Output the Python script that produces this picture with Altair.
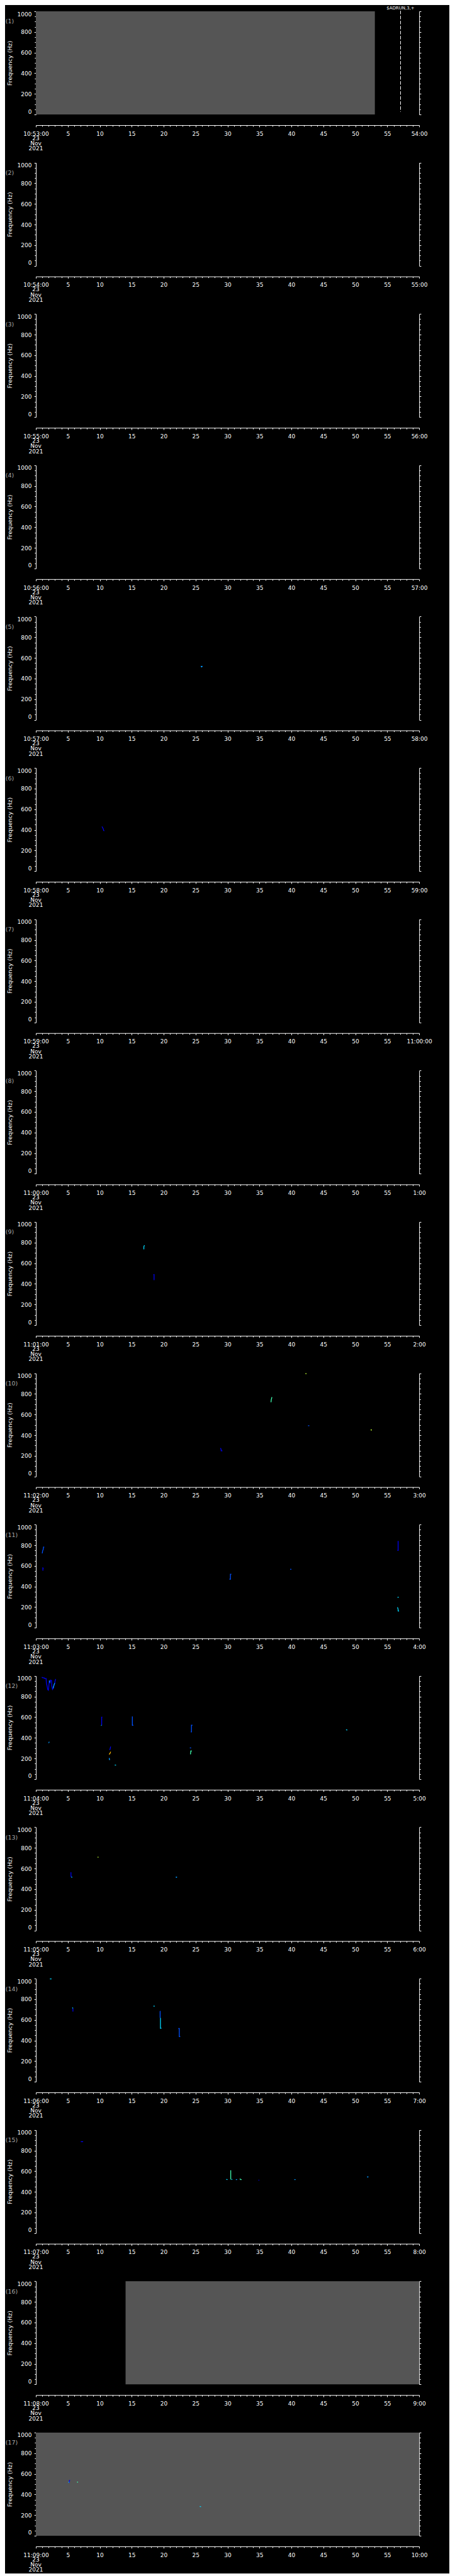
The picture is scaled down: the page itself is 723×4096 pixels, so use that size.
import altair as alt
import pandas as pd

S = 0.705
PLOT_W = 864 * S
PLOT_H = 232.7 * S
PERIOD = 341.31 * S
N_PANELS = 17
H_ALL = (N_PANELS - 1) * PERIOD + PLOT_H
TICK = 4 * S
TICK_MINOR = 2.8 * S
AXIS_OFFSET = 24 * S
LABEL_PAD = 5.6
LINE_H = 8.3
FONT = "DejaVu Sans"
GRAY = "#555555"

# ---------------- data ----------------
panel_start = ["10:53:00", "10:54:00", "10:55:00", "10:56:00", "10:57:00", "10:58:00",
               "10:59:00", "11:00:00", "11:01:00", "11:02:00", "11:03:00", "11:04:00",
               "11:05:00", "11:06:00", "11:07:00", "11:08:00", "11:09:00"]
panel_end = ["54:00", "55:00", "56:00", "57:00", "58:00", "59:00", "11:00:00", "1:00",
             "2:00", "3:00", "4:00", "5:00", "6:00", "7:00", "8:00", "9:00", "10:00"]
date_lines = ["23", "Nov", "2021"]

freq_ticks = list(range(0, 1001, 50))
time_ticks = list(range(0, 61))
freq_range = [0, 1000]
time_range = [0, 60]

# grey (no data) blocks
gray_panel = [1, 16, 17]
gray_t0 = [0.0, 14.04, 0.0]
gray_t1 = [53.06, 60.0, 60.0]

# marker in panel 1
marker_panel = 1
marker_time = 57.08
marker_f = [1005.6, 25.8]
marker_label = "$ADRUN,3,+"

level_names = ["1", "2", "3", "4", "5", "6", "7"]
level_colors = ["#0000f0", "#0050ff", "#0098ff", "#00d8ff", "#40ffb0", "#c0ff30", "#ffb800"]

# spectrogram traces: panel, level, times (s), frequencies (Hz)
trace_panel = [5, 5, 6, 9, 9,
               10, 10, 10, 10, 10,
               11, 11, 11, 11, 11, 11, 11,
               12, 12, 12, 12, 12, 12, 12, 12, 12, 12, 12, 12, 12, 12, 12,
               13, 13, 13, 13, 13,
               14, 14, 14, 14, 14, 14, 14,
               15, 15, 15, 15, 15, 15, 15, 15, 15, 15,
               17, 17, 17, 17]
trace_level = [3, 3, 1, 4, 1,
               6, 5, 2, 6, 1,
               2, 1, 2, 2, 1, 4, 4,
               1, 3, 3, 3, 1, 4, 2, 2, 4, 1, 7, 3, 4, 2, 5,
               6, 1, 4, 3, 3,
               4, 1, 4, 4, 2, 4, 2,
               1, 5, 4, 4, 3, 5, 1, 3, 3, 3,
               1, 4, 5, 4]
trace_t = [
    [25.8, 26.1], [25.95, 25.95],
    [10.35, 10.45, 10.55, 10.6, 10.7],
    [16.9, 16.9, 17.0],
    [18.4, 18.5, 18.5],
    [42.2, 42.35], [36.95, 36.85, 36.8], [42.6, 42.8], [52.4, 52.6], [28.9, 29.0, 29.0, 29.2],
    [1.0, 1.05, 1.15, 1.2, 1.3], [1.1, 1.1, 1.2], [30.3, 30.45, 30.45, 30.6], [39.8, 40.0],
    [56.6, 56.7, 56.7], [56.6, 56.8], [56.6, 56.7, 56.7, 56.85],
    [0.93, 1.1, 1.3, 1.35, 1.6, 1.65, 1.75, 1.85, 1.95, 2.0, 2.1, 2.2, 2.3, 2.45, 2.5,
     2.6, 2.7, 2.85, 2.95, 3.0, 3.1],
    [2.1, 2.2], [2.7, 2.85, 2.95], [2.0, 2.1],
    [10.3, 10.3, 10.4], [10.2, 10.3], [15.1, 15.1, 15.25], [24.25, 24.35, 24.35, 24.5],
    [48.55, 48.75], [11.5, 11.6, 11.65, 11.7], [11.45, 11.55, 11.65, 11.7],
    [11.5, 11.5, 11.6], [12.35, 12.55], [24.1, 24.3], [24.2, 24.25, 24.4],
    [9.65, 9.8], [5.49, 5.5, 5.6], [5.55, 5.7], [21.9, 22.1], [22.0, 22.0],
    [2.2, 2.45], [5.8, 5.8], [5.72, 5.8], [18.4, 18.6], [19.4, 19.45, 19.45],
    [19.5, 19.5, 19.65], [22.3, 22.45, 22.45, 22.6],
    [7.03, 7.4], [30.5, 30.5], [29.8, 30.0], [30.6, 30.75], [31.3, 31.5],
    [31.9, 32.0, 32.05, 32.2], [34.85, 34.95], [40.45, 40.65], [51.85, 52.05], [51.95, 51.95],
    [5.2, 5.25, 5.35], [5.1, 5.2], [6.45, 6.6], [25.65, 25.85],
]
trace_f = [
    [518, 518], [518, 508],
    [432, 420, 410, 395, 390],
    [735, 760, 775],
    [490, 490, 436],
    [996, 996], [769, 745, 719], [492, 492], [452, 450], [275, 260, 248, 248],
    [721, 745, 760, 782, 782], [553, 580, 575], [471, 471, 519, 519], [567, 567],
    [750, 750, 841], [295, 297], [199, 180, 163, 163],
    [988, 982, 982, 975, 975, 930, 905, 870, 862, 880, 955, 935, 960, 955, 900,
     870, 880, 915, 925, 950, 970],
    [955, 935], [880, 915, 930], [350, 362],
    [522, 600, 600], [520, 522], [607, 522, 522], [457, 457, 522, 522],
    [479, 476], [286, 286, 300, 315], [240, 245, 255, 265],
    [205, 190, 188], [136, 136], [304, 302], [240, 272, 272],
    [710, 710], [564, 522, 518], [516, 516], [517, 517], [517, 511],
    [997, 997], [680, 712], [719, 712], [733, 733], [683, 683, 619],
    [619, 519, 519], [516, 516, 437, 437],
    [886, 886], [609, 520], [521, 519], [520, 520], [519, 519],
    [524, 524, 519, 519], [515, 511], [519, 519], [545, 545], [545, 539],
    [513, 535, 540], [518, 518], [520, 520], [284, 281],
]

# ---------------- tables ----------------
rows = []
for i, (p, lv, ts, fs) in enumerate(zip(trace_panel, trace_level, trace_t, trace_f)):
    for j, (t, f) in enumerate(zip(ts, fs)):
        rows.append({"panel": p, "trace": i, "level": str(lv), "order": j, "t": t, "f": f})
traces_df = pd.DataFrame(rows)
gray_df = pd.DataFrame({"panel": gray_panel, "t0": gray_t0, "t1": gray_t1,
                        "f0": freq_range[0], "f1": freq_range[1]})


def top(k):
    return (k - 1) * PERIOD


def bot(k):
    return top(k) + PLOT_H


xscale = alt.Scale(domain=time_range, nice=False, zero=False)


def X(field, axis=None):
    return alt.X(field, type="quantitative", scale=xscale, axis=axis)


def Y(field, k, axis=None):
    return alt.Y(field, type="quantitative",
                 scale=alt.Scale(domain=freq_range, range=[bot(k), top(k)], nice=False, zero=False),
                 axis=axis)


x_tick_size = {"condition": {"test": "datum.value % 5 === 0", "value": TICK}, "value": TICK_MINOR}
y_tick_size = {"condition": {"test": "datum.value % 200 === 0", "value": TICK}, "value": 3 * S}

one = pd.DataFrame({"a": [0]})
layers = []
# invisible black anchors fixing the chart origin / width
layers.append(alt.Chart(one).mark_rect(color="black").encode(
    x=alt.value(-48.6), x2=alt.value(-47.6), y=alt.value(-8.92), y2=alt.value(-7.92)))
layers.append(alt.Chart(one).mark_rect(color="black").encode(
    x=alt.value(655.4), x2=alt.value(656.4), y=alt.value(-8.92), y2=alt.value(-7.92)))

color_enc = alt.Color("level:N", scale=alt.Scale(domain=level_names, range=level_colors),
                      legend=None)

for k in range(1, N_PANELS + 1):
    idx = k - 1
    g = gray_df[gray_df.panel == k]
    if len(g):
        layers.append(alt.Chart(g).mark_rect(color=GRAY).encode(
            x=X("t0"), x2="t1", y=Y("f0", k), y2="f1"))
    tr = traces_df[traces_df.panel == k]
    if len(tr):
        layers.append(alt.Chart(tr).mark_line(strokeWidth=1.3).encode(
            x=X("t"), y=Y("f", k), detail="trace:N", order="order:Q", color=color_enc))
    if k == marker_panel:
        mdf = pd.DataFrame({"t": [marker_time], "f0": [marker_f[0]], "f1": [marker_f[1]],
                            "lab": [marker_label]})
        layers.append(alt.Chart(mdf).mark_rule(color="white", strokeWidth=1,
                                               strokeDash=[5.5, 2.5]).encode(
            x=X("t"), y=Y("f0", k), y2="f1"))
        layers.append(alt.Chart(mdf).mark_text(color="white", font=FONT, fontSize=7,
                                               align="center", baseline="middle").encode(
            x=X("t"), y=alt.value(top(k) - 5.5), text="lab:N"))
    # panel number
    ldf = pd.DataFrame({"lab": [f"({k})"]})
    layers.append(alt.Chart(ldf).mark_text(color="#a8a8a8", font=FONT, fontSize=9.5,
                                           align="left", baseline="middle").encode(
        x=alt.value(-48.3), y=alt.value(top(k) + 23.3 * S), text="lab:N"))
    # date lines under the first time label
    label_top = bot(k) + AXIS_OFFSET + TICK + LABEL_PAD
    for i, txt in enumerate(date_lines):
        ddf = pd.DataFrame({"t": [time_range[0]], "txt": [txt]})
        layers.append(alt.Chart(ddf).mark_text(color="white", font=FONT, fontSize=9,
                                               align="center", baseline="top").encode(
            x=X("t"), y=alt.value(label_top + (i + 1) * LINE_H), text="txt:N"))

    # axes
    start = panel_start[idx]
    end = panel_end[idx]
    xexpr = (f"datum.value == 0 ? '{start}' : (datum.value == 60 ? '{end}' : "
             f"(datum.value % 5 == 0 ? datum.label : ''))")
    xaxis = alt.Axis(orient="bottom", values=time_ticks, labelExpr=xexpr, format="d",
                     tickSize=x_tick_size, labelPadding=LABEL_PAD + TICK - TICK_MINOR,
                     offset=bot(k) + AXIS_OFFSET - H_ALL, domainColor="white",
                     tickColor="white", labelColor="white", labelFont=FONT, labelFontSize=9,
                     labelOverlap=False, labelFlush=False, grid=False, title=None,
                     domainWidth=1, tickWidth=1, labelBaseline="top", labelAlign="center")
    yaxis = alt.Axis(orient="left", values=freq_ticks, format="d",
                     labelExpr="datum.value % 200 == 0 ? datum.label : ''",
                     tickSize=y_tick_size, labelPadding=3.6 + TICK - 3 * S,
                     labelFlush=True, labelFlushOffset=0,
                     labelOverlap=False, domainColor="white", tickColor="white",
                     labelColor="white", labelFont=FONT, labelFontSize=9, grid=False,
                     domainWidth=1, tickWidth=1,
                     title="Frequency (Hz)", titleX=-41.3, titleY=top(k) + PLOT_H / 2,
                     titleAngle=270, titleBaseline="middle", titleAlign="center",
                     titleFont=FONT, titleFontSize=9.5, titleFontWeight="normal",
                     titleColor="white")
    yaxis_r = alt.Axis(orient="right", values=freq_ticks, labels=False, tickSize=y_tick_size,
                       domainColor="white", tickColor="white", grid=False, title=None,
                       domainWidth=1, tickWidth=1)
    adf = pd.DataFrame({"t": time_range, "f": freq_range})
    layers.append(alt.Chart(adf).mark_point(opacity=0, size=1).encode(
        x=X("t", xaxis), y=Y("f", k, yaxis)))
    layers.append(alt.Chart(adf).mark_point(opacity=0, size=1).encode(
        x=X("t"), y=Y("f", k, yaxis_r)))

chart = alt.layer(*layers).properties(
    width=PLOT_W, height=H_ALL,
    padding={"left": 0, "top": 0, "right": 0, "bottom": 0},
    background="black",
).resolve_scale(y="independent").resolve_axis(x="independent", y="independent")
chart = chart.configure_view(strokeWidth=0)

chart.save("out.html", embed_options={"renderer": "svg", "actions": False})
